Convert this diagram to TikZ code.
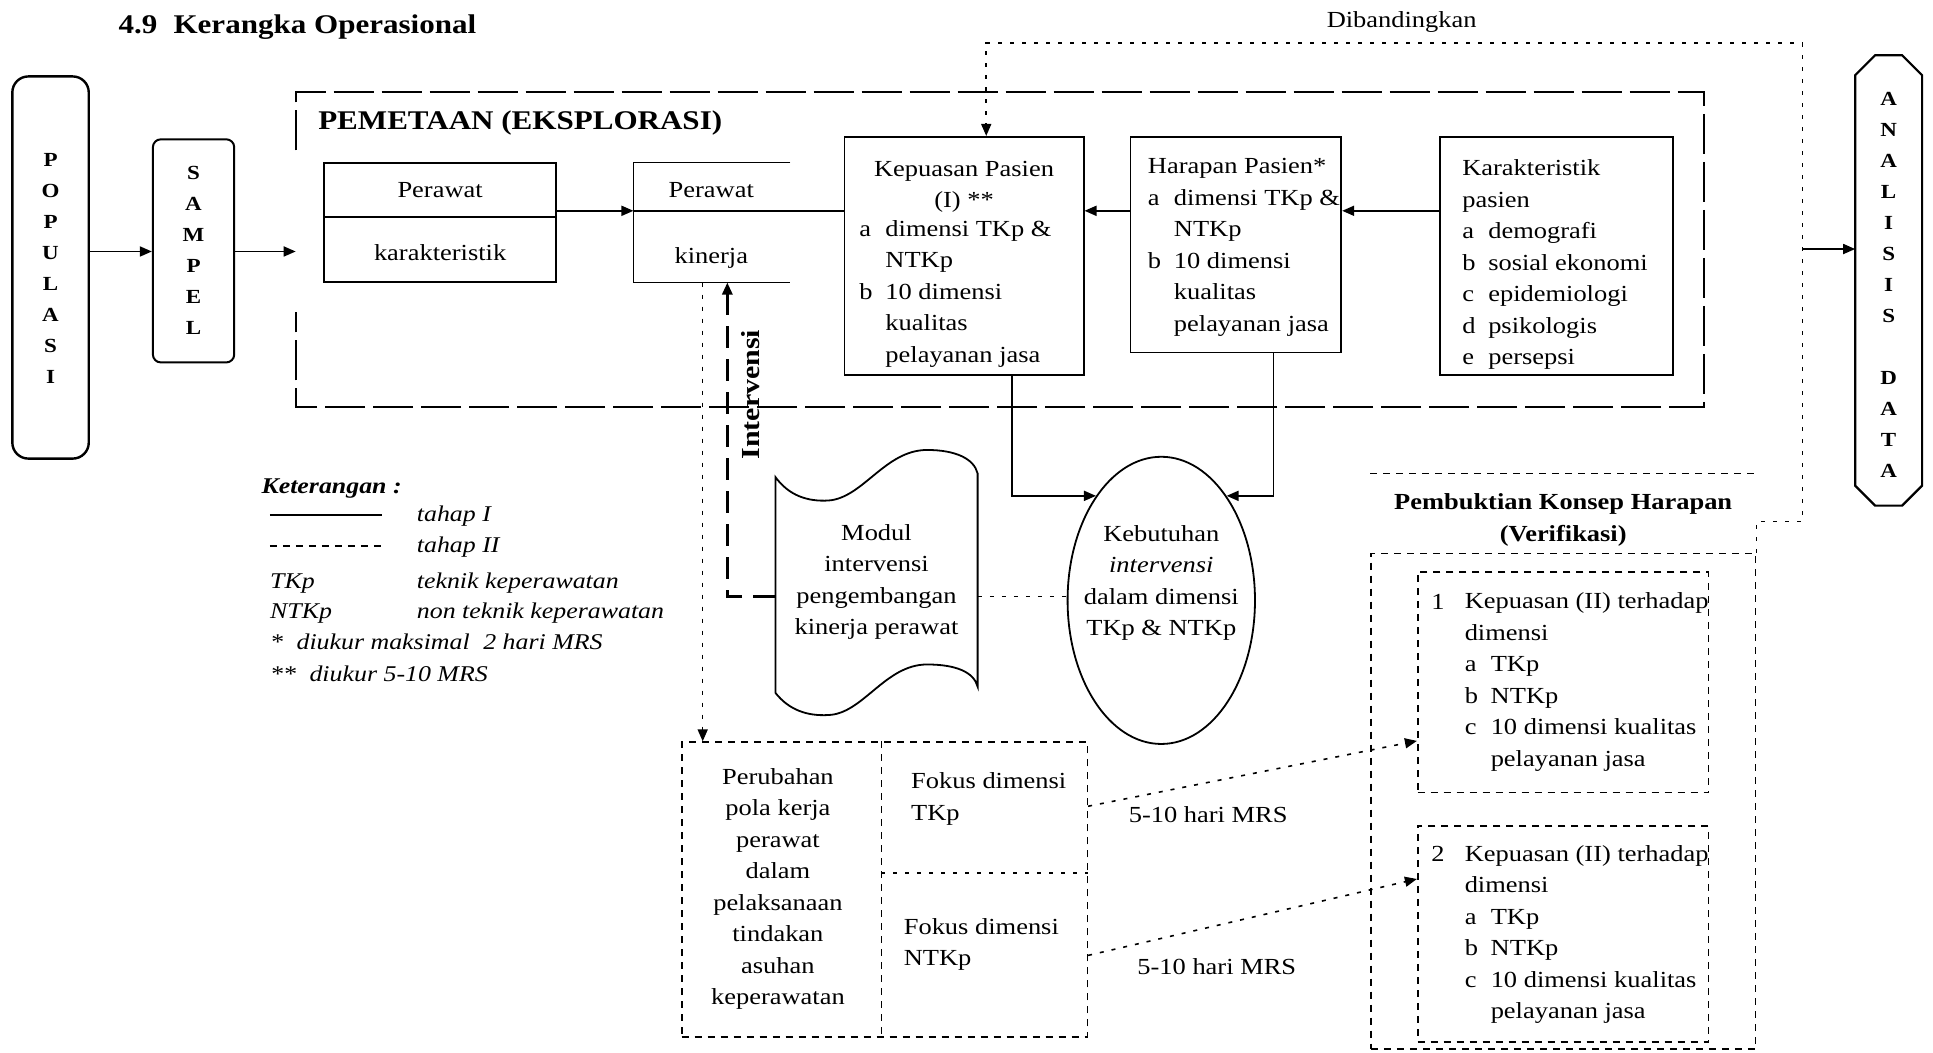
\documentclass[tikz,border=0pt]{standalone}
\usepackage{fontspec}
\setmainfont{Liberation Serif}[FakeStretch=1.15]
\usetikzlibrary{arrows.meta,fit,shapes.geometric}
\newcommand{\itemlab}[1]{\makebox[26pt][l]{#1}}
\begin{document}
\begin{tikzpicture}[x=1.2328pt, y=-1.2328pt,
  ln/.style={line width=1.8pt},
  box/.style={draw, line width=1.8pt, inner sep=0pt},
  frm/.style={inner sep=0pt},
  dsh/.style={line width=1.6pt, dash pattern=on 7pt off 6pt},
  sparse/.style={line width=1.6pt, dash pattern=on 4pt off 8pt},
  pmframe/.style={line width=1.8pt, dash pattern=on 40pt off 8pt},
  ivline/.style={line width=2.8pt, dash pattern=on 22pt off 11pt},
  arr/.style={-{Triangle[length=12pt,width=10pt]}},
  txt/.style={font=\fontsize{23}{31.5}\selectfont, inner sep=0pt},
  ltr/.style={font=\bfseries\fontsize{20}{31}\selectfont, align=center, inner sep=0pt},
  lg/.style={anchor=base west, inner sep=0pt, font=\itshape\fontsize{22.5}{26}\selectfont},
]
\useasboundingbox (0,0) rectangle (1568,854);
% multi-line nodes below are anchored at the baseline of their last line

% ---------- headings ----------
\node[anchor=west, inner sep=0pt, font=\bfseries\fontsize{27}{30}\selectfont] (title) at (96,22) {4.9\hspace{0.6em}Kerangka Operasional};
\node[txt] (banding) at (1137,18) {Dibandingkan};

% ---------- POPULASI / SAMPEL / ANALISIS DATA ----------
\node[frm, draw, line width=2.4pt, rounded corners=16pt, fit={(10,62) (72,372)}] (pop) {};
\node[ltr] (popl) at (41,218) {P\\O\\P\\U\\L\\A\\S\\I};

\node[frm, draw, line width=2pt, rounded corners=8pt, fit={(124,113) (190,294)}] (sam) {};
\node[ltr] (saml) at (157,203) {S\\A\\M\\P\\E\\L};

\node[frm, fit={(1505,45) (1559,410)}] (ad) {};
\draw[line width=2.2pt] ([yshift=-20pt]ad.north west) -- ([xshift=20pt]ad.north west)
  -- ([xshift=-20pt]ad.north east) -- ([yshift=-20pt]ad.north east)
  -- ([yshift=20pt]ad.south east) -- ([xshift=-20pt]ad.south east)
  -- ([xshift=20pt]ad.south west) -- ([yshift=20pt]ad.south west) -- cycle;
\node[ltr] (adl) at (1532,231) {A\\N\\A\\L\\I\\S\\I\\S\\[31pt]D\\A\\T\\A};

\coordinate (ar) at (0,204);
\draw[ln,arr] (pop.east |- ar) -- (sam.west |- ar);

% ---------- PEMETAAN frame ----------
\node[frm, fit={(240,75) (1382,330)}] (pm) {};
\coordinate (g1) at (0,122);
\coordinate (g2) at (0,253);
\draw[pmframe] (pm.west |- g1) -- (pm.north west) -- (pm.north east) -- (pm.south east) -- (pm.south west) -- (pm.west |- g2);
\node[anchor=west, inner sep=0pt, font=\bfseries\fontsize{27}{30}\selectfont] (pmt) at (258,100) {PEMETAAN (EKSPLORASI)};
\draw[ln,arr] (sam.east |- ar) -- (pm.west |- ar);

\coordinate (row) at (0,171);

% Perawat karakteristik
\node[box, fit={(263,132) (451,229)}] (pk) {};
\coordinate (pkd) at (0,176);
\draw[ln] (pk.west |- pkd) -- (pk.east |- pkd);
\node[txt] (pk1) at (357,154) {Perawat};
\node[txt] (pk2) at (357,205) {karakteristik};

% Perawat kinerja (open on the right)
\node[frm, fit={(514,132) (641,229)}] (pkin) {};
\draw[ln] (pkin.north east) -- (pkin.north west) -- (pkin.south west) -- (pkin.south east);
\node[txt] (pkin1) at (577,154) {Perawat};
\node[txt] (pkin2) at (577,209) {kinerja};
\draw[ln,arr] (pk.east |- row) -- (pkin.west |- row);

% Kepuasan pasien
\node[box, fit={(685,111) (879,304)}] (kp) {};
\node[txt, align=center, anchor=base] (kp1) at (782,168.5) {Kepuasan Pasien\\(I) **};
\node[txt, align=left, anchor=base west] (kp2) at (697,294) {\itemlab{a}dimensi TKp \&\\\itemlab{}NTKp\\\itemlab{b}10 dimensi\\\itemlab{}kualitas\\\itemlab{}pelayanan jasa};
\draw[ln] (pkin.west |- row) -- (kp.west |- row);

% Harapan pasien
\node[box, fit={(917,111) (1088,286)}] (hp) {};
\node[txt, align=left, anchor=base west] (hp1) at (931,268.5) {Harapan Pasien*\\\itemlab{a}dimensi TKp \&\\\itemlab{}NTKp\\\itemlab{b}10 dimensi\\\itemlab{}kualitas\\\itemlab{}pelayanan jasa};
\draw[ln,arr] (hp.west |- row) -- (kp.east |- row);

% Karakteristik pasien
\node[box, fit={(1168,111) (1357,304)}] (kk) {};
\node[txt, align=left, anchor=base west] (kk1) at (1186,296) {Karakteristik\\pasien\\\itemlab{a}demografi\\\itemlab{b}sosial ekonomi\\\itemlab{c}epidemiologi\\\itemlab{d}psikologis\\\itemlab{e}persepsi};
\draw[ln,arr] (kk.west |- row) -- (hp.east |- row);

% ---------- needs ellipse and module ----------
\node[draw, ellipse, line width=1.8pt, minimum width=187.4pt, minimum height=287.2pt, inner sep=0pt] (keb) at (942,487) {};
\node[txt, align=center] (kebt) at (942,473) {Kebutuhan\\\textit{intervensi}\\dalam dimensi\\TKp \& NTKp};
\coordinate (xk1) at (821,0);
\coordinate (xk2) at (1033,0);
\draw[ln,arr] (kp.south -| xk1) |- (keb.122);
\draw[ln,arr] (hp.south -| xk2) |- (keb.58);

\node[frm, fit={(629,365) (793,580)}] (md) {};
\draw[ln] (629,387) .. controls (640,402) and (655,407) .. (672,406)
  .. controls (700,404) and (718,365) .. (752,365)
  .. controls (775,365) and (790,372) .. (793,384)
  -- (793,557)
  .. controls (790,545) and (775,539) .. (752,539)
  .. controls (718,539) and (700,579) .. (672,580)
  .. controls (655,581) and (640,576) .. (629,562) -- cycle;
\node[txt, align=center] (mdt) at (711,472) {Modul\\intervensi\\pengembangan\\kinerja perawat};

\coordinate (iv) at (0,484);
\draw[sparse] (md.east |- iv) -- (keb.west |- iv);

% Intervensi feedback
\coordinate (ivx) at (590,0);
\draw[ivline,arr] (md.west |- iv) -| (pkin.south -| ivx);
\node[rotate=90, inner sep=0pt, font=\bfseries\fontsize{26}{30}\selectfont] (ivt) at (609,320) {Intervensi};

% ---------- Perubahan pola kerja ----------
\node[frm, draw, dsh, fit={(553,602) (882,841)}] (pb) {};
\coordinate (dvx) at (715,0);
\coordinate (dvy) at (0,708);
\draw[dsh] (pb.north -| dvx) -- (pb.south -| dvx);
\draw[sparse] (dvx |- dvy) -- (pb.east |- dvy);
\node[txt, align=center, anchor=base] (pbt) at (631,815) {Perubahan\\pola kerja\\perawat\\dalam\\pelaksanaan\\tindakan\\asuhan\\keperawatan};
\node[txt, align=left, anchor=base west] (fk1) at (739,665.5) {Fokus dimensi\\TKp};
\node[txt, align=left, anchor=base west] (fk2) at (733,783.5) {Fokus dimensi\\NTKp};

\coordinate (dx) at (570,0);
\draw[sparse,arr] (pkin.south -| dx) -- (pb.north -| dx);

% ---------- Verifikasi ----------
\node[frm, draw, dsh, fit={(1112,449) (1424,851)}] (vb) {};
\coordinate (hl) at (0,384);
\draw[dsh] (vb.west |- hl) -- (vb.east |- hl);
\node[align=center, inner sep=0pt, font=\bfseries\fontsize{23}{32}\selectfont] (vt) at (1268,422) {Pembuktian Konsep Harapan\\(Verifikasi)};

\node[frm, draw, dsh, fit={(1150,464) (1386,643)}] (v1) {};
\node[txt, anchor=base west] (v1n) at (1161,494) {1};
\node[txt, align=left, anchor=base west] (v1t) at (1188,621.5) {Kepuasan (II) terhadap\\dimensi\\\itemlab{a}TKp\\\itemlab{b}NTKp\\\itemlab{c}10 dimensi kualitas\\\itemlab{}pelayanan jasa};

\node[frm, draw, dsh, fit={(1150,670) (1386,845)}] (v2) {};
\node[txt, anchor=base west] (v2n) at (1161,699) {2};
\node[txt, align=left, anchor=base west] (v2t) at (1188,826.5) {Kepuasan (II) terhadap\\dimensi\\\itemlab{a}TKp\\\itemlab{b}NTKp\\\itemlab{c}10 dimensi kualitas\\\itemlab{}pelayanan jasa};

\coordinate (p1) at (0,654);
\coordinate (a1) at (0,601);
\coordinate (p2) at (0,775);
\coordinate (a2) at (0,713);
\draw[sparse,arr] (pb.east |- p1) -- (v1.west |- a1);
\draw[sparse,arr] (pb.east |- p2) -- (v2.west |- a2);
\node[txt] (mrs1) at (980,661) {5-10 hari MRS};
\node[txt] (mrs2) at (987,784) {5-10 hari MRS};

% ---------- comparison loop and data analysis ----------
\coordinate (dA) at (1462,423);
\coordinate (dB) at (1462,35);
\coordinate (dC) at (800,0);
\draw[sparse,arr] (vb.north east) |- (dA) -- (dB) -| (kp.north -| dC);
\coordinate (aS) at (1462,202);
\draw[ln,arr] (aS) -- (ad.west |- aS);

% ---------- legend ----------
\node[anchor=base west, inner sep=0pt, font=\bfseries\itshape\fontsize{22.5}{26}\selectfont] (leg) at (212,400) {Keterangan :};
\coordinate (lA) at (219,418);
\coordinate (lB) at (310,418);
\coordinate (lC) at (219,443);
\coordinate (lD) at (310,443);
\draw[ln] (lA) -- (lB);
\draw[dsh] (lC) -- (lD);
\node[lg] (lg1) at (338,423) {tahap I};
\node[lg] (lg2) at (338,448) {tahap II};
\node[lg] (lg3) at (219,477) {TKp};
\node[lg] (lg4) at (338,477) {teknik keperawatan};
\node[lg] (lg5) at (219,502) {NTKp};
\node[lg] (lg6) at (338,502) {non teknik keperawatan};
\node[lg] (lg7) at (219,527) {*\hspace{0.6em}diukur maksimal\hspace{0.6em}2 hari MRS};
\node[lg] (lg8) at (219,553) {**\hspace{0.6em}diukur 5-10 MRS};
\end{tikzpicture}
\end{document}
